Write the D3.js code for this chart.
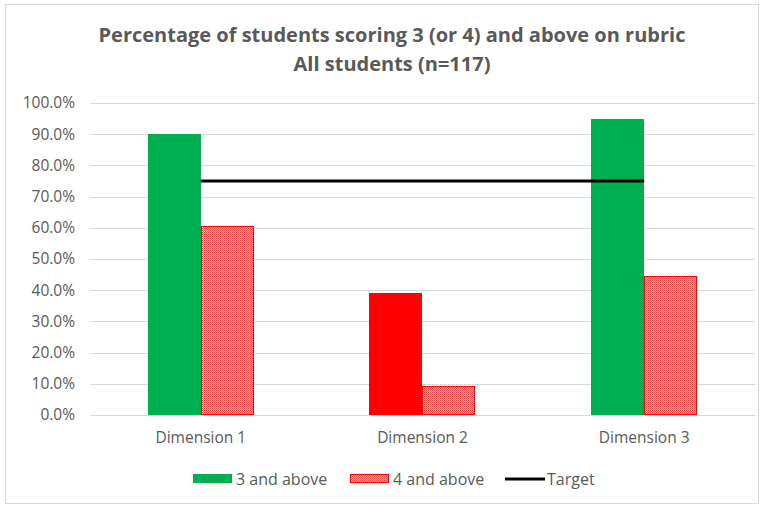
<!DOCTYPE html>
<html><head><meta charset="utf-8">
<script src="https://cdn.jsdelivr.net/npm/d3@7"></script>
<style>body{margin:0;background:#fff}svg{display:block}</style>
</head><body>
<script>
const categories = ["Dimension 1", "Dimension 2", "Dimension 3"];
const above3 = [0.90, 0.39, 0.95];
const above4 = [0.605, 0.093, 0.447];
const target = [0.75, 0.75, 0.75];
const above3Colors = ["#00B050", "#FF0000", "#00B050"];
const yTicks = [0,0.1,0.2,0.3,0.4,0.5,0.6,0.7,0.8,0.9,1.0];
const seriesNames = ["3 and above", "4 and above", "Target"];
const titleLines = ["Percentage of students scoring 3 (or 4) and above on rubric", "All students (n=117)"];

const W = 764, H = 508;
const svg = d3.select("body").append("svg").attr("width", W).attr("height", H).attr("shape-rendering","auto");
const defs = svg.append("defs");
const pat = defs.append("pattern").attr("id","dots").attr("width",2).attr("height",2).attr("patternUnits","userSpaceOnUse");
pat.append("rect").attr("width",2).attr("height",2).attr("fill","#ffc4c4").attr("shape-rendering","crispEdges");
pat.append("rect").attr("width",1).attr("height",1).attr("fill","#ff3a3a").attr("shape-rendering","crispEdges");
pat.append("rect").attr("x",1).attr("y",1).attr("width",1).attr("height",1).attr("fill","#ff5a5a").attr("shape-rendering","crispEdges");

svg.append("rect").attr("x",5.5).attr("y",4.5).attr("width",753).attr("height",499).attr("fill","#fff").attr("stroke","#d9d9d9");

const font = "'Open Sans', 'Liberation Sans', sans-serif";
svg.selectAll("text.title").data(titleLines).enter().append("text")
  .attr("x", 392).attr("y",(d,i)=>42+i*29).attr("text-anchor","middle")
  .attr("font-family", font).attr("font-weight","bold").attr("font-size",20).attr("fill","#595959")
  .text(d=>d);

const x = d3.scaleBand().domain(categories).range([90,755]).paddingInner(0.52).paddingOuter(0.26);
const y = d3.scaleLinear().domain([0,1]).range([415,103]);
const x1 = d3.scaleBand().domain([0,1]).range([0, x.bandwidth()]);

svg.selectAll("line.grid").data(yTicks).enter().append("line")
  .attr("x1",90).attr("x2",755).attr("y1",d=>Math.round(y(d))+0.5).attr("y2",d=>Math.round(y(d))+0.5)
  .attr("stroke","#d9d9d9").attr("stroke-width",1);

const yAxis = d3.axisLeft(y).tickValues(yTicks).tickFormat(d3.format(".1%")).tickSize(0).tickPadding(15);
const ya = svg.append("g").attr("transform","translate(90,0)").call(yAxis);
ya.select(".domain").remove();
ya.selectAll("text").attr("font-family",font).attr("font-size",15.5).attr("fill","#595959");

const xAxis = d3.axisBottom(x).tickSize(0).tickPadding(17);
const xa = svg.append("g").attr("transform","translate(0,415)").call(xAxis);
xa.select(".domain").remove();
xa.selectAll("text").attr("font-family",font).attr("font-size",15.5).attr("fill","#595959");

const idx = categories.map((c,i)=>i);
svg.selectAll("rect.b3").data(idx).enter().append("rect")
  .attr("x",i=>Math.round(x(categories[i])+x1(0))).attr("width",Math.round(x1.bandwidth()))
  .attr("y",i=>Math.round(y(above3[i]))).attr("height",i=>Math.round(y(0))-Math.round(y(above3[i])))
  .attr("fill",i=>above3Colors[i]);
svg.selectAll("rect.b4").data(idx).enter().append("rect")
  .attr("x",i=>Math.round(x(categories[i])+x1(1))+0.5).attr("width",Math.round(x1.bandwidth())-1)
  .attr("y",i=>Math.round(y(above4[i]))+0.5).attr("height",i=>Math.round(y(0))-Math.round(y(above4[i]))-1)
  .attr("fill","url(#dots)").attr("stroke","#ff0000").attr("stroke-width",1);

const line = d3.line().x((d,i)=>x(categories[i])+x.bandwidth()/2).y(d=>y(d));
svg.append("path").datum(target).attr("d",line).attr("fill","none").attr("stroke","#000").attr("stroke-width",3.2);

const leg = svg.append("g").attr("font-family",font).attr("font-size",16).attr("fill","#595959");
leg.append("rect").attr("x",193).attr("y",474).attr("width",39).attr("height",9).attr("fill","#00B050");
leg.append("text").attr("x",236).attr("y",484.5).text(seriesNames[0]).attr("fill","#595959");
leg.append("rect").attr("x",350.5).attr("y",474.5).attr("width",38).attr("height",8).attr("fill","url(#dots)").attr("stroke","#ff0000");
leg.append("text").attr("x",393).attr("y",484.5).text(seriesNames[1]).attr("fill","#595959");
leg.append("line").attr("x1",505).attr("x2",545).attr("y1",479).attr("y2",479).attr("stroke","#000").attr("stroke-width",3.2);
leg.append("text").attr("x",547).attr("y",484.5).text(seriesNames[2]).attr("fill","#595959");
</script>
</body></html>
